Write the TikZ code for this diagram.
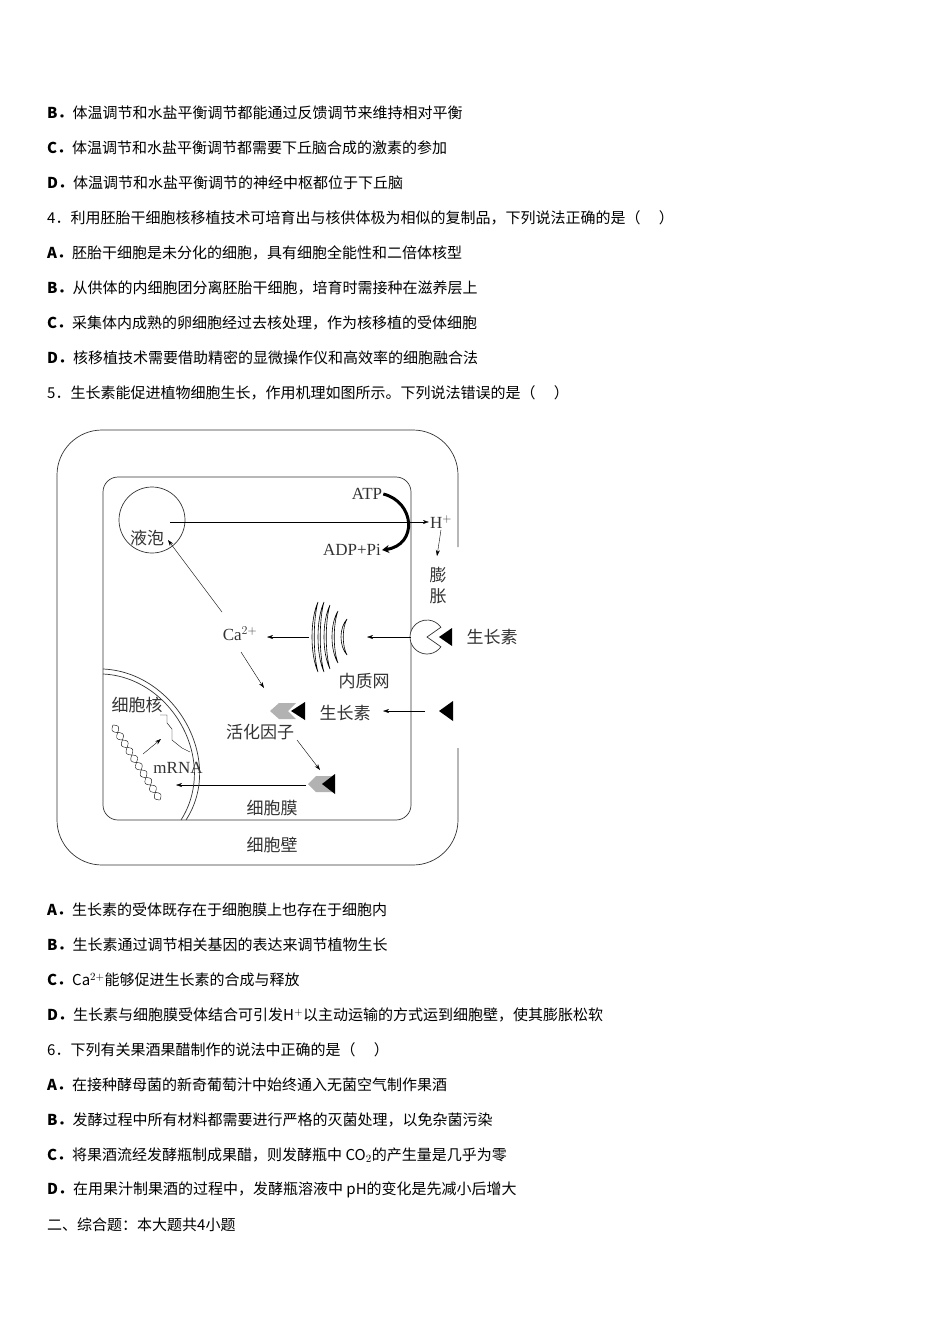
\documentclass[tikz,border=0pt]{standalone}
\usepackage{fontspec}
\setmainfont{Liberation Serif}
\newfontfamily\cjk{Noto Sans CJK SC}
\usetikzlibrary{arrows.meta}
\begin{document}
\begin{tikzpicture}[x=1pt,y=-1pt,
  txt/.style={anchor=west,inner sep=0pt,font=\fontsize{15}{16}\selectfont\cjk},
  lab/.style={inner sep=1pt,font=\fontsize{17}{18}\selectfont\cjk,text=black!80},
  en/.style={inner sep=1pt,font=\fontsize{17}{18}\selectfont,text=black!80},
  arr/.style={-{Stealth[length=6pt,width=4pt]},thin},
  ln/.style={line width=0.7pt,black!80}]
\useasboundingbox (0,0) rectangle (950,1344);
\foreach \t/\y in {{\textbf{B．}体温调节和水盐平衡调节都能通过反馈调节来维持相对平衡}/113,
{\textbf{C．}体温调节和水盐平衡调节都需要下丘脑合成的激素的参加}/148,
{\textbf{D．}体温调节和水盐平衡调节的神经中枢都位于下丘脑}/183,
{4．利用胚胎干细胞核移植技术可培育出与核供体极为相似的复制品，下列说法正确的是（\quad\ ）}/218,
{\textbf{A．}胚胎干细胞是未分化的细胞，具有细胞全能性和二倍体核型}/253,
{\textbf{B．}从供体的内细胞团分离胚胎干细胞，培育时需接种在滋养层上}/288,
{\textbf{C．}采集体内成熟的卵细胞经过去核处理，作为核移植的受体细胞}/323,
{\textbf{D．}核移植技术需要借助精密的显微操作仪和高效率的细胞融合法}/358,
{5．生长素能促进植物细胞生长，作用机理如图所示。下列说法错误的是（\quad\ ）}/393,
{\textbf{A．}生长素的受体既存在于细胞膜上也存在于细胞内}/910,
{\textbf{B．}生长素通过调节相关基因的表达来调节植物生长}/945,
{\textbf{C．}Ca$^{2+}$能够促进生长素的合成与释放}/980,
{\textbf{D．}生长素与细胞膜受体结合可引发H$^{+}$以主动运输的方式运到细胞壁，使其膨胀松软}/1015,
{6．下列有关果酒果醋制作的说法中正确的是（\quad\ ）}/1050,
{\textbf{A．}在接种酵母菌的新奇葡萄汁中始终通入无菌空气制作果酒}/1085,
{\textbf{B．}发酵过程中所有材料都需要进行严格的灭菌处理，以免杂菌污染}/1120,
{\textbf{C．}将果酒流经发酵瓶制成果醋，则发酵瓶中 CO$_2$的产生量是几乎为零}/1155,
{\textbf{D．}在用果汁制果酒的过程中，发酵瓶溶液中 pH的变化是先减小后增大}/1190,
{二、综合题：本大题共4小题}/1225}
  \node[txt] at (47,\y) {\t};
% cell wall
\draw[ln] (458,547) -- (458,475) arc (0:-90:45) -- (102,430) arc (-90:-180:45) -- (57,820) arc (180:90:45) -- (413,865) arc (90:0:45) -- (458,748);
% membrane
\draw[ln] (103,492) arc (180:270:15) -- (396,477) arc (270:360:15) -- (411,805) arc (0:90:15) -- (118,820) arc (90:180:15) -- cycle;
% vacuole
\node[draw,ln,circle,minimum size=66pt,inner sep=0pt] (vac) at (152,520) {};
\node[lab] (yp) at (147,538) {液泡};
\node[en] (hp) at (441,522) {H$^{+}$};
\draw[arr] (170,522) -- (hp.west);
\node[en] (atp) at (367,494) {ATP};
\node[en] (adp) at (352,550) {ADP+Pi};
\draw[line width=3pt,-{Stealth[length=7pt,width=8pt]}] (atp.east) .. controls (415,502) and (418,545) .. (adp.east);
\node[lab,align=center] (pz) at (438,586) {膨\\[3pt]胀};
\draw[arr] (hp.south) -- (437,556);
% receptor
\coordinate (rc) at (427,637);
\draw[ln,fill=white] (rc) ++(35:17) arc (35:325:17) -- (rc) -- cycle;
\fill (439,637) -- (452,628) -- (452,646) -- cycle;
\node[lab] (aux1) at (492,637) {生长素};
% ER: nested crescents
\foreach \x/\h in {318/35,324/35,330/32,338/26,347/18}
  \draw[line width=0.6pt] (\x,637-\h) .. controls (\x-8,637-\h*0.5) and (\x-8,637+\h*0.5) .. (\x,637+\h)
            .. controls (\x-5,637+\h*0.5) and (\x-5,637-\h*0.5) .. cycle;
\node[lab] (nzw) at (364,681) {内质网};
\draw[arr] (411,637) -- (367,637);
\node[en] (ca) at (240,634) {Ca$^{2+}$};
\draw[arr] (309,637) -- (267,637);
\draw[arr] (222,612) -- (168,540);
\draw[arr] (241,652) -- (264,688);
% activation factor 1
\fill[gray!60] (270,711) -- (279,703) -- (296,703) -- (288,711) -- (296,719) -- (279,719) -- cycle;
\fill (291,711) -- (305,702) -- (305,720) -- cycle;
\node[lab] (aux2) at (345,713) {生长素};
\draw[arr] (425,711) -- (383,711);
\fill (439,711) -- (453,701) -- (453,721) -- cycle;
\node[lab] (hh) at (260,732) {活化因子};
\draw[arr] (297,740) -- (320,770);
% activation factor 2
\fill[gray!60] (308,784) -- (316,776) -- (333,776) -- (325,784) -- (333,792) -- (316,792) -- cycle;
\fill (322,784) -- (335,774) -- (335,794) -- cycle;
\draw[arr] (306,785) -- (176,785);
\node[lab] (xbm) at (272,808) {细胞膜};
\node[lab] (xbb) at (272,845) {细胞壁};
% nucleus
\draw[ln] (103,669) .. controls (175,672) and (225,760) .. (186,820);
\draw[ln] (103,674) .. controls (171,677) and (219,760) .. (181,820);
\node[lab] (xbh) at (137,705) {细胞核};
% DNA helix: two strands
\draw[thin,domain=0:1,samples=80,smooth] plot ({113+47*\x+3*sin(\x*1800)}, {725+75*\x-2*sin(\x*1800)});
\draw[thin,domain=0:1,samples=80,smooth] plot ({113+47*\x-3*sin(\x*1800)}, {725+75*\x+2*sin(\x*1800)});
% mRNA zigzag
\draw[thin] (160,715) -- (167,715) -- (167,723) -- (172,729) -- (172,740) -- (182,748) -- (190,752);
\draw[arr] (143,754) -- (161,739);
\node[en] (mrna) at (178,768) {mRNA};
\end{tikzpicture}
\end{document}
